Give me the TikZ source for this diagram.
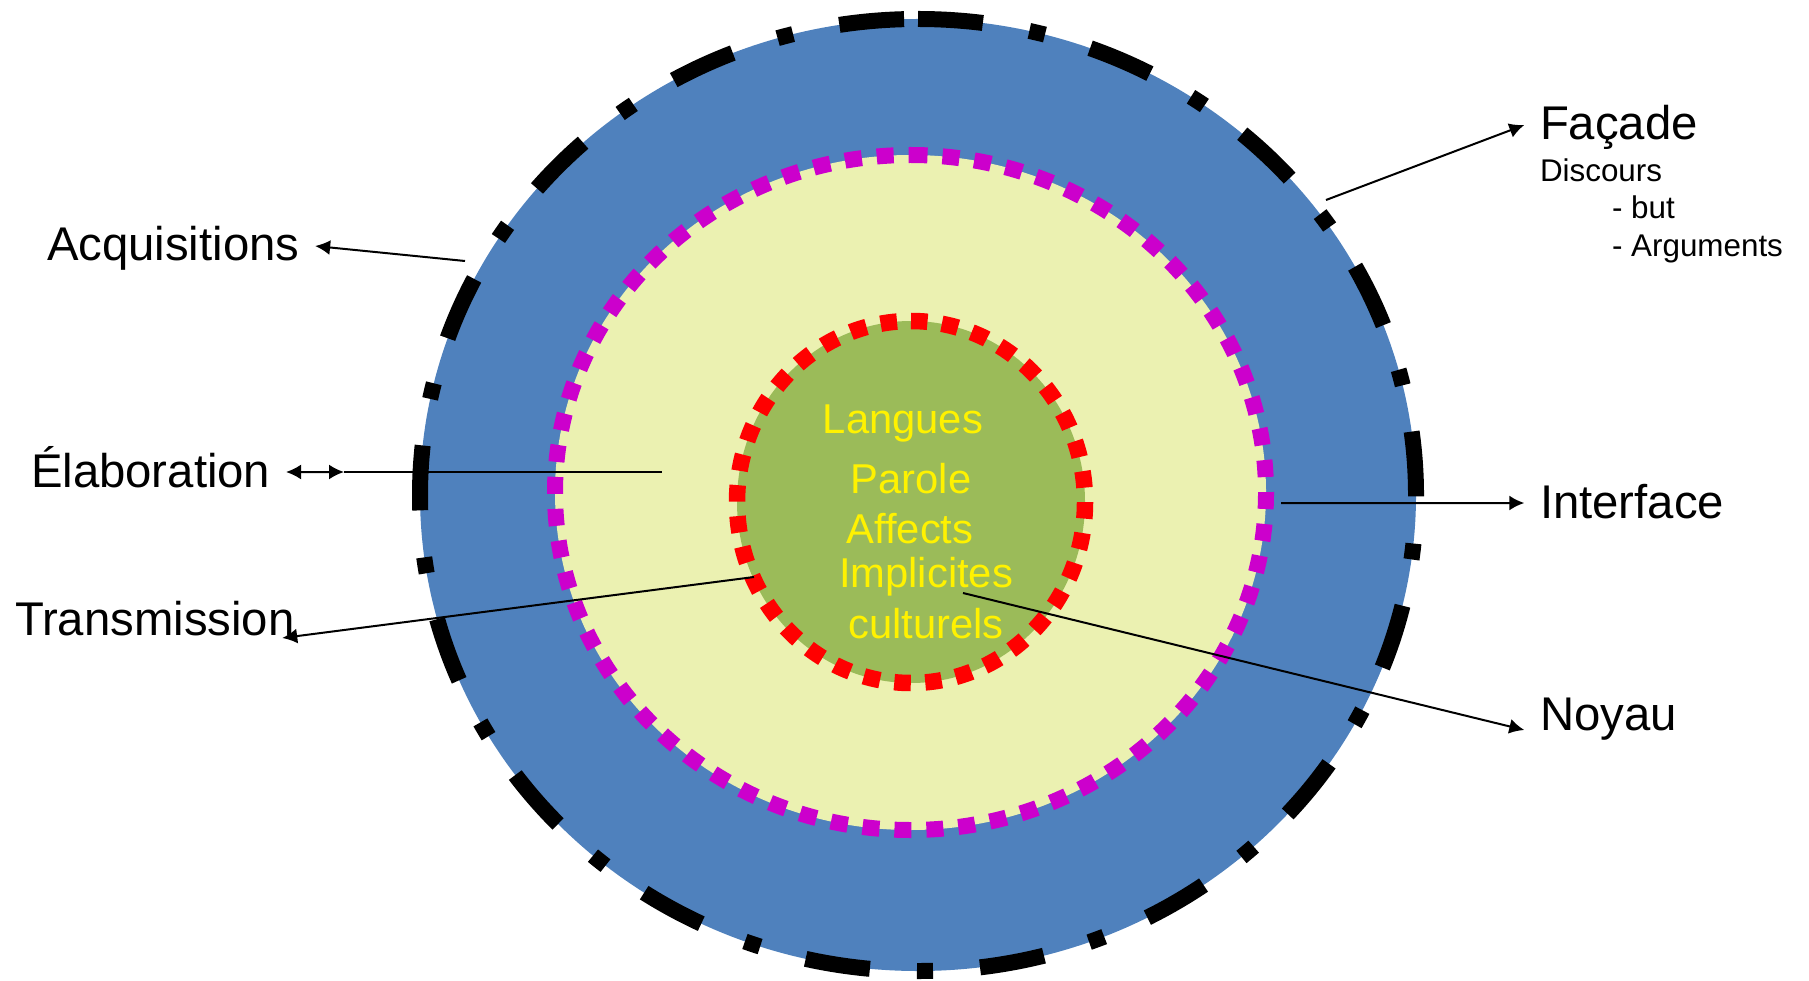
\documentclass[tikz,border=0pt]{standalone}
\usepackage{fontspec}
\setmainfont{Liberation Sans}
\usetikzlibrary{arrows.meta,calc}

\definecolor{facadeblue}{RGB}{79,129,189}
\definecolor{interfacecream}{RGB}{235,241,177}
\definecolor{coregreen}{RGB}{155,187,89}
\definecolor{dotmagenta}{RGB}{204,0,204}

\newcommand{\ringfont}{\fontsize{13.46pt}{16pt}\selectfont}
\newcommand{\corefont}{\fontsize{11.87pt}{14pt}\selectfont}
\newcommand{\notefont}{\fontsize{8.93pt}{11pt}\selectfont}

\begin{document}
\begin{tikzpicture}
[
x=0.1mm, y=-0.1mm
, >={Latex[length=1.5mm,width=1.5mm]}
, ringlabel/.style={font=\ringfont, inner sep=1.5mm, text height=4mm, text depth=1mm}
, corelabel/.style={font=\corefont, text=yellow, inner sep=0pt}
, note/.style={font=\notefont, inner sep=0pt}
, connector/.style={line width=0.2mm}
]

\useasboundingbox (0,0) rectangle (1809,981);

% rings
\fill[facadeblue] (918,495) ellipse [x radius=498, y radius=476];
\fill[interfacecream] (910.5,492.5) ellipse [x radius=355.5, y radius=337.5];
\fill[coregreen] (911,502) ellipse [x radius=174, y radius=181];

% ring borders
\draw[line width=1.6mm, dash pattern=on 6.5mm off 4.72mm on 1.6mm off 4.72mm]
  (918,19) arc[start angle=-90, end angle=270, x radius=498, y radius=476];
\draw[dotmagenta, line width=1.6mm, dash pattern=on 1.7mm off 1.5mm]
  (910.5,155) arc[start angle=-90, end angle=270, x radius=355.5, y radius=337.5];
\draw[red, line width=1.65mm, dash pattern=on 1.65mm off 1.45mm]
  (911,321) arc[start angle=-90, end angle=270, x radius=174, y radius=181];

% core texts
\node[corelabel, anchor=base] (langues) at (903,433) {Langues};
\node[corelabel, anchor=base] (parole) at (911,493) {Parole};
\node[corelabel, anchor=base] (affects) at (910,543) {Affects};
\node[corelabel, anchor=base] (implicites) at (926,587) {Implicites};
\node[corelabel, anchor=base] (culturels) at (926,638) {culturels};

% labels
\node[ringlabel, anchor=text] (acq) at (47,261) {Acquisitions};
\node[ringlabel, anchor=text] (elab) at (31,487) {Élaboration};
\node[ringlabel, anchor=text] (trans) at (15,635) {Transmission};
\node[ringlabel, anchor=text] (facade) at (1540,140) {Façade};
\node[note, anchor=text] (discours) at (1540,182) {Discours};
\node[note, anchor=text] (but) at (1612,219) {- but};
\node[note, anchor=text] (args) at (1612,257) {- Arguments};
\node[ringlabel, anchor=text] (interface) at (1540,518) {Interface};
\node[ringlabel, anchor=text] (noyau) at (1540,730) {Noyau};

% connectors
\coordinate (acq end) at (465,261);
\coordinate (elab mid) at (344,472);
\coordinate (elab end) at (662,472);
\coordinate (trans end) at (754,577);
\coordinate (trans tip) at ($(trans.base east)+(-28,3)$);
\coordinate (facade end) at (1326,200);
\coordinate (interface end) at (1281,503);
\coordinate (noyau end) at (963,593);

\draw[connector,->] (acq end) -- (acq.east);
\draw[connector,<->] (elab.east) -- (elab mid);
\draw[connector] (elab mid) -- (elab end);
\draw[connector,->] (trans end) -- (trans tip);
\draw[connector,->] (facade end) -- (facade.west);
\draw[connector,->] (interface end) -- (interface.west);
\draw[connector,->] (noyau end) -- (noyau.base west);

\end{tikzpicture}
\end{document}
